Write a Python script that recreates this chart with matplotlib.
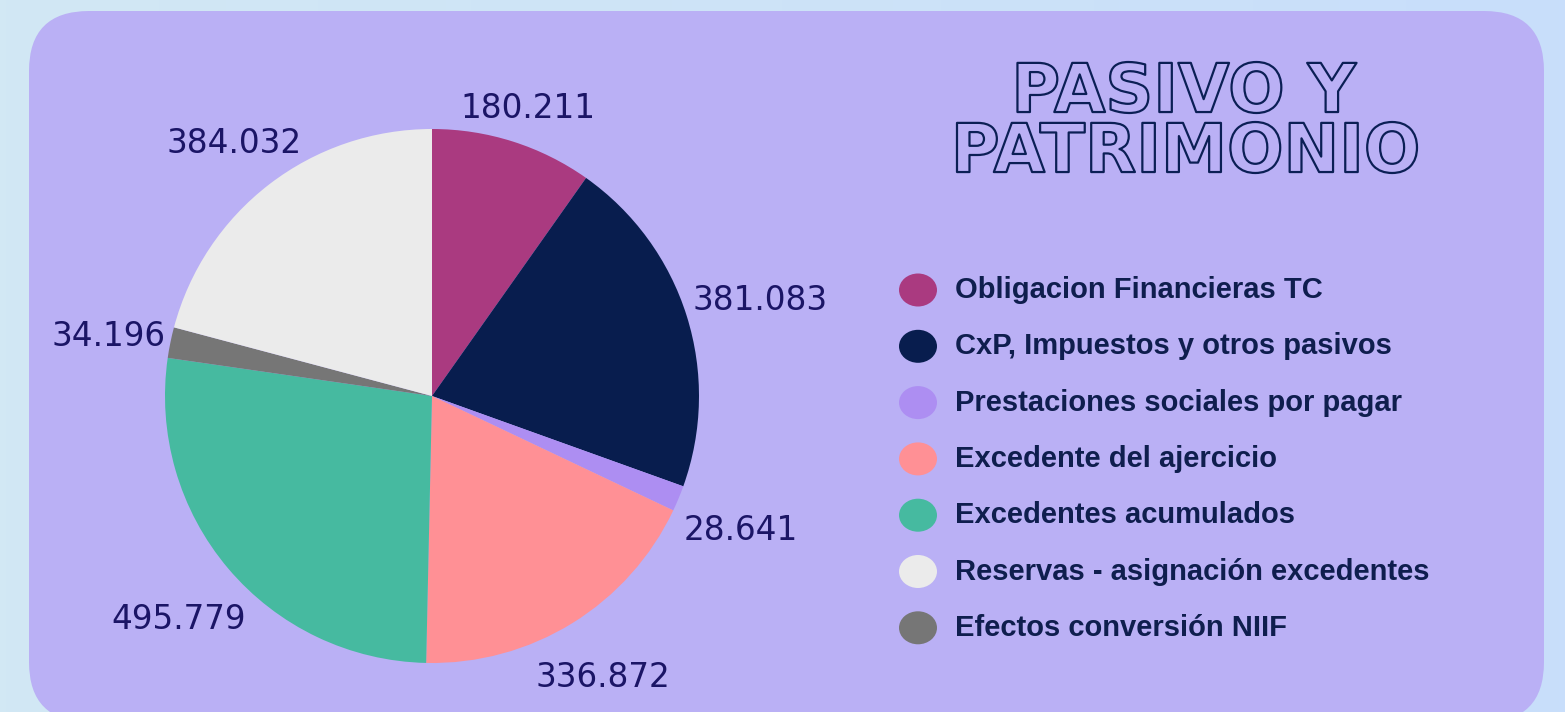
import numpy as np
import matplotlib.pyplot as plt
from matplotlib.patches import FancyBboxPatch, Ellipse, PathPatch
from matplotlib.textpath import TextPath
from matplotlib.font_manager import FontProperties
from matplotlib.transforms import Affine2D

# Pie data, in clockwise order from the top
labels = ['Obligacion Financieras TC', 'CxP, Impuestos y otros pasivos',
          'Prestaciones sociales por pagar', 'Excedente del ajercicio',
          'Excedentes acumulados', 'Efectos conversión NIIF',
          'Reservas - asignación excedentes']
values = [180.211, 381.083, 28.641, 336.872, 495.779, 34.196, 384.032]
value_text = ['180.211', '381.083', '28.641', '336.872', '495.779', '34.196', '384.032']
colors = ['#AA3A80', '#081D4E', '#AD8EF2', '#FF9095', '#46BAA0', '#767676', '#EBEBEB']
# legend shows the reserves before the conversion effects
legend_order = [0, 1, 2, 3, 4, 6, 5]
title_lines = ['PASIVO Y', 'PATRIMONIO']

W, H = 1565, 712
fig = plt.figure(figsize=(W / 100, H / 100), dpi=100)
ax = fig.add_axes([0, 0, 1, 1])

# light blue background gradient
grad = np.linspace(0, 1, 256)
c0 = np.array([210, 232, 244]) / 255
c1 = np.array([200, 222, 251]) / 255
img = c0[None, :] * (1 - grad[:, None]) + c1[None, :] * grad[:, None]
ax.imshow(img[None, :, :], extent=[0, W, 0, H], aspect='auto', zorder=0)

# rounded panel
panel = FancyBboxPatch((29, -10), 1515, 711, boxstyle='round,pad=0,rounding_size=60',
                       fc='#BAB0F5', ec='none', zorder=1)
ax.add_patch(panel)

# pie
cx, cy, R = 432, H - 396, 267
wedges, _ = ax.pie(values, colors=colors, startangle=90, counterclock=False,
                   radius=R, center=(cx, cy), wedgeprops=dict(linewidth=0))
for w in wedges:
    w.set_zorder(2)

ax.set_xlim(0, W)
ax.set_ylim(0, H)
ax.set_aspect('auto')
ax.axis('off')

renderer = fig.canvas.get_renderer()
gap = 6
for w, s in zip(wedges, value_text):
    ang = np.deg2rad((w.theta1 + w.theta2) / 2)
    t = ax.text(0, 0, s, fontsize=23.5, color='#1B1566', ha='center', va='center',
                family='DejaVu Sans', zorder=3)
    bb = t.get_window_extent(renderer)
    d = R + gap + abs(np.cos(ang)) * bb.width / 2 + abs(np.sin(ang)) * bb.height / 2
    t.set_position((cx + d * np.cos(ang) + 2, cy + d * np.sin(ang) - 7))

# title: outlined, horizontally stretched letters
fp = FontProperties(family='DejaVu Sans', weight='bold')
paths = [TextPath((0, 0), line, size=100, prop=fp) for line in title_lines]
sx = 460 / paths[1].get_extents().width
for tp, (top, bottom) in zip(paths, [(62, 113), (122, 173)]):
    e = tp.get_extents()
    sy = (bottom - top) / e.height
    tr = (Affine2D().translate(-(e.x0 + e.width / 2), -e.y0)
          .scale(sx, sy).translate(1187, H - bottom))
    ax.add_patch(PathPatch(tr.transform_path(tp), fc='#BAB0F5', ec='#0B1F55',
                           lw=1.6, joinstyle='round', zorder=3))

# legend
for k, idx in enumerate(legend_order):
    y = H - (290 + 56.3 * k)
    ax.add_patch(Ellipse((918, y), 38, 33, fc=colors[idx], ec='none', zorder=3))
    ax.text(955, y, labels[idx], fontsize=21, fontweight='bold', family='Liberation Sans',
            color='#0F1E4E', ha='left', va='center', zorder=3)

fig.savefig('out.png', dpi=100)
